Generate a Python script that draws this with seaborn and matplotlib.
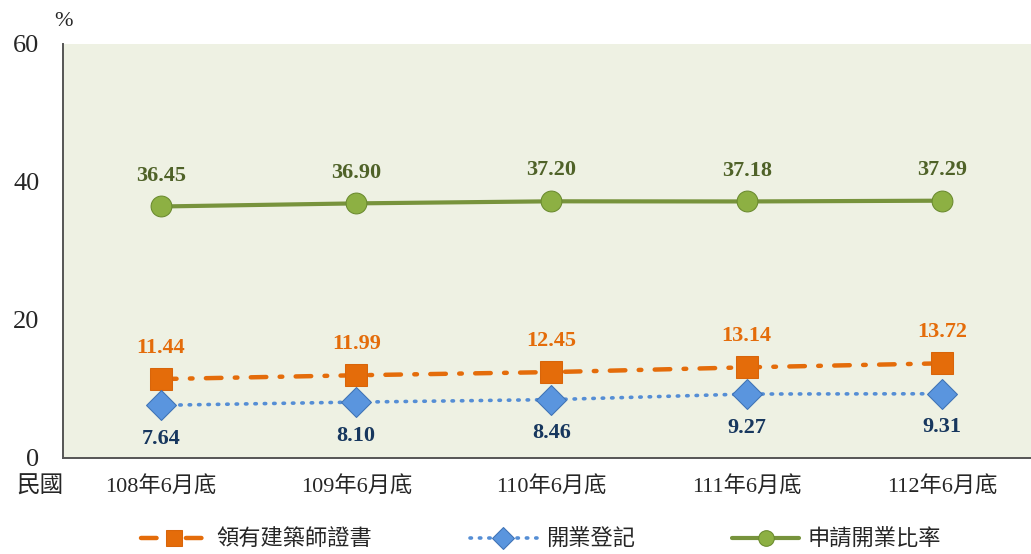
import pandas as pd
import matplotlib.pyplot as plt
import seaborn as sns

# data
periods = ['108年6月底', '109年6月底', '110年6月底', '111年6月底', '112年6月底']
licensed = [11.44, 11.99, 12.45, 13.14, 13.72]      # 領有建築師證書
registered = [7.64, 8.10, 8.46, 9.27, 9.31]         # 開業登記
ratio = [36.45, 36.90, 37.20, 37.18, 37.29]         # 申請開業比率
series_names = ['領有建築師證書', '開業登記', '申請開業比率']
yticks = [0, 20, 40, 60]

sns.set_theme(style='white')
plt.rcParams['font.family'] = ['Liberation Serif', 'Noto Sans CJK TC', 'DejaVu Sans']

fig = plt.figure(figsize=(10.31, 5.54), dpi=100)
ax = fig.add_axes([0.0611, 0.1733, 0.9389, 0.7473])
ax.set_facecolor('#EEF1E3')

df = pd.DataFrame({'period': periods, 'licensed': licensed,
                   'registered': registered, 'ratio': ratio})
df['x'] = range(len(df))

sns.lineplot(data=df, x='x', y='licensed', ax=ax, color='#E46C0A', lw=3.2,
             linestyle=(0, (3.5, 3, 0.6, 3)), dash_capstyle='round',
             marker='s', markersize=16, markerfacecolor='#E46C0A',
             markeredgecolor='#D8650A', label=series_names[0])
sns.lineplot(data=df, x='x', y='registered', ax=ax, color='#558ED5', lw=2.6,
             linestyle=(0, (0.4, 2.2)), dash_capstyle='round',
             marker='D', markersize=15, markerfacecolor='#5A95DE',
             markeredgecolor='#3E72B5', label=series_names[1])
sns.lineplot(data=df, x='x', y='ratio', ax=ax, color='#77933C', lw=3,
             marker='o', markersize=15, markerfacecolor='#8DB043',
             markeredgecolor='#6A8A2E', label=series_names[2])

lab = dict(ha='center', fontsize=16, fontweight='bold', textcoords='offset points')
for i in range(len(periods)):
    ax.annotate(f'{ratio[i]:.2f}', (i, ratio[i]), xytext=(0, 15), va='bottom',
                color='#4F6228', **lab)
    ax.annotate(f'{licensed[i]:.2f}', (i, licensed[i]), xytext=(0, 15), va='bottom',
                color='#E46C0A', **lab)
    ax.annotate(f'{registered[i]:.2f}', (i, registered[i]), xytext=(0, -17), va='top',
                color='#17375E', **lab)

ax.set_xlim(-0.502, 4.456)
ax.set_ylim(0, 60)
ax.set_yticks(yticks)
ax.set_yticklabels([str(v) for v in yticks], fontsize=19)
ax.set_xticks(range(len(periods)))
ax.set_xticklabels(periods, fontsize=16)
ax.tick_params(axis='y', direction='in', length=5, width=1.2, color='#555555', pad=17)
ax.tick_params(axis='x', direction='out', length=5, width=1.2, color='#555555', pad=8)
ax.set_xlabel('')
ax.set_ylabel('')
for s in ['top', 'right']:
    ax.spines[s].set_visible(False)
for s in ['left', 'bottom']:
    ax.spines[s].set_color('#555555')
    ax.spines[s].set_linewidth(1.4)

ax.get_legend().remove()
handles, labels = ax.get_legend_handles_labels()
fig.legend(handles, labels, loc='center', bbox_to_anchor=(0.525, 0.025), ncol=3,
           frameon=False, fontsize=16, columnspacing=4.4, handlelength=3.0,
           handletextpad=0.4, markerscale=0.75)

fig.text(0.039, 0.121, '民國', fontsize=17, ha='center', va='center')
fig.text(0.062, 0.962, '%', fontsize=16, ha='center', va='center')

fig.savefig('out.png', dpi=100)
